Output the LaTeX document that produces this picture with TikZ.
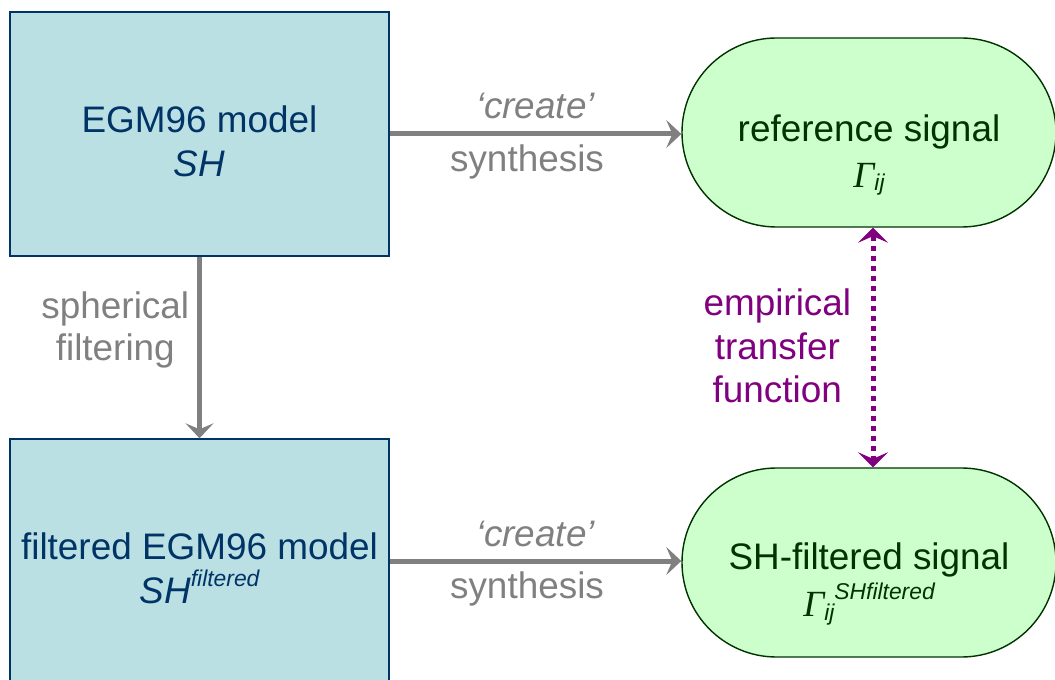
\documentclass[tikz,border=0pt]{standalone}
\usepackage{fontspec}
\setmainfont{Liberation Sans}
\newfontfamily\gfont{Liberation Serif}
\usetikzlibrary{arrows.meta,positioning,shapes.misc}
\definecolor{ModelFill}{HTML}{BBE0E3}
\definecolor{ModelBlue}{HTML}{003366}
\definecolor{SignalFill}{HTML}{CCFFCC}
\definecolor{SignalGreen}{HTML}{003300}
\definecolor{FlowGray}{HTML}{808080}
\definecolor{TransferPurple}{HTML}{800080}
\newcommand{\gam}{{\gfont\itshape Γ}}
\newcommand{\subtx}[1]{\raisebox{-0.7mm}{\fontsize{13}{13}\selectfont\itshape #1}}
\newcommand{\suptx}[1]{\raisebox{3.4mm}{\fontsize{13}{13}\selectfont\itshape #1}}

\begin{document}
\begin{tikzpicture}[x=0.2mm,y=0.2mm,
  model/.style={draw=ModelBlue,line width=0.8pt,fill=ModelFill,minimum width=75.8mm,minimum height=48.8mm,inner sep=0pt},
  signal/.style={rounded rectangle,draw=SignalGreen,line width=0.8pt,fill=SignalFill,minimum width=74.8mm,minimum height=37.8mm,inner sep=0pt},
  big/.style={align=center,font=\fontsize{21}{25}\selectfont},
  flow/.style={draw=FlowGray,line width=1mm,-{Stealth[length=3mm,width=5.6mm,inset=1.2mm]}},
  transfer/.style={draw=TransferPurple,line width=1mm,dash pattern=on 1mm off 1mm,
    {Stealth[length=3mm,width=6mm,inset=1.3mm]}-{Stealth[length=3mm,width=6mm,inset=1.3mm]}},
  lbl/.style={text=FlowGray,font=\fontsize{21}{25}\selectfont}]
\useasboundingbox (0,0) rectangle (1055,679);

% models and signals
\node[model] (egm) at (199.5,545) {};
\node[model] (egmf) at (199.5,118) {};
\node[signal] (ref) at (869,546.5) {};
\node[signal] (filt) at (869,116.5) {};

\node[big,text=ModelBlue] (egmtxt) at (199.5,537.5) {EGM96 model\\\itshape SH};
\node[big,text=ModelBlue] (egmftxt) at (199.5,111) {filtered EGM96 model\\\itshape SH\suptx{filtered}};
\node[big,text=SignalGreen,font=\fontsize{21}{26}\selectfont] (reftxt) at (869,524) {reference signal\\\gam\subtx{ij}};
\node[big,text=SignalGreen,font=\fontsize{21}{26.7}\selectfont] (filttxt) at (869,95) {SH-filtered signal\\\gam\subtx{ij}\suptx{SHfiltered}};

% connectors
\draw[flow] (egm.east) -- (egm.east -| ref.west)
  node[lbl,midway,anchor=base,yshift=3.0mm] (cr1) {\itshape ‘create’}
  node[lbl,midway,anchor=base,yshift=-7.6mm,xshift=-1.7mm] (syn1) {synthesis};
\draw[flow] (egmf.east) -- (egmf.east -| filt.west)
  node[lbl,midway,anchor=base,yshift=2.9mm] (cr2) {\itshape ‘create’}
  node[lbl,midway,anchor=base,yshift=-7.5mm,xshift=-1.7mm] (syn2) {synthesis};
\draw[flow] (egm.south) -- (egmf.north)
  node[lbl,midway,left=0.4mm,yshift=3.5mm,align=center,font=\fontsize{21}{24}\selectfont] (sph) {spherical\\filtering};
\draw[transfer] ([xshift=0.8mm]ref.south) -- ([xshift=0.8mm]filt.north)
  node[midway,left=2.7mm,yshift=0.3mm,text=TransferPurple,align=center,font=\fontsize{21}{24.8}\selectfont] (etf) {empirical\\transfer\\function};
\end{tikzpicture}
\end{document}
